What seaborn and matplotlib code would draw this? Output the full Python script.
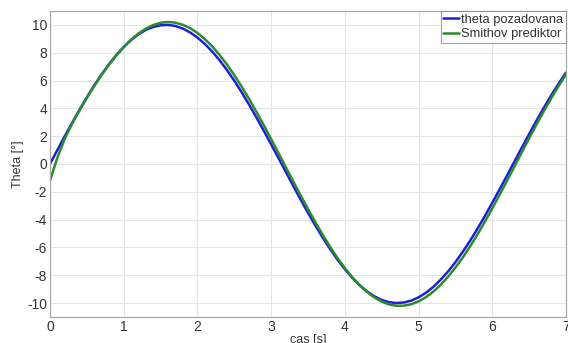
import pandas as pd
import seaborn as sns
import matplotlib.pyplot as plt

# time axis [s]
cas = [i / 10 for i in range(71)]

# theta pozadovana (reference)
theta_poz = [0.00, 1.00, 1.99, 2.96, 3.89, 4.79, 5.65, 6.44, 7.17, 7.83,
             8.41, 8.91, 9.32, 9.64, 9.85, 9.97, 10.00, 9.92, 9.74, 9.46,
             9.09, 8.63, 8.09, 7.46, 6.76, 5.99, 5.16, 4.27, 3.35, 2.39,
             1.41, 0.42, -0.58, -1.58, -2.56, -3.51, -4.43, -5.30, -6.12, -6.88,
             -7.57, -8.18, -8.72, -9.16, -9.52, -9.78, -9.94, -10.00, -9.96, -9.83,
             -9.59, -9.26, -8.84, -8.32, -7.73, -7.06, -6.31, -5.51, -4.65, -3.74,
             -2.79, -1.82, -0.83, 0.17, 1.17, 2.15, 3.12, 4.05, 4.94, 5.78,
             6.57]

# Smithov prediktor output
theta_smith = [-1.20, 0.45, 1.80, 2.90, 3.85, 4.75, 5.60, 6.40, 7.13, 7.80,
               8.39, 8.93, 9.38, 9.73, 9.99, 10.15, 10.21, 10.16, 10.01, 9.77,
               9.42, 8.98, 8.46, 7.84, 7.15, 6.39, 5.56, 4.68, 3.75, 2.79,
               1.79, 0.78, -0.24, -1.26, -2.26, -3.24, -4.19, -5.10, -5.96, -6.76,
               -7.49, -8.14, -8.72, -9.20, -9.60, -9.90, -10.10, -10.20, -10.19, -10.09,
               -9.88, -9.58, -9.18, -8.69, -8.11, -7.45, -6.72, -5.92, -5.06, -4.14,
               -3.19, -2.21, -1.20, -0.19, 0.83, 1.85, 2.84, 3.80, 4.73, 5.61,
               6.43]

series_names = ['theta pozadovana', 'Smithov prediktor']
series_colors = ['#1f1fd8', '#2b8c2b']

df = pd.DataFrame({
    'cas': cas * 2,
    'theta': theta_poz + theta_smith,
    'signal': [series_names[0]] * len(cas) + [series_names[1]] * len(cas),
})

sns.set_style('white')
plt.rcParams['font.family'] = ['Liberation Sans', 'DejaVu Sans']
plt.rcParams['axes.unicode_minus'] = False

fig = plt.figure(figsize=(5.68, 3.43), dpi=100)
ax = fig.add_axes([0.088, 0.076, 0.9085, 0.892])

sns.lineplot(data=df, x='cas', y='theta', hue='signal', hue_order=series_names,
             palette=series_colors, linewidth=1.8, ax=ax)

ax.set_xlim(0, 7)
ax.set_ylim(-11, 11)
ax.set_xticks(range(0, 8))
ax.set_yticks(range(-10, 11, 2))
ax.grid(True, color='#e4e4e4', linewidth=0.8)
ax.tick_params(direction='in', length=3, color='#999999', labelsize=10,
               labelcolor='#333333', pad=2)
for s in ax.spines.values():
    s.set_color('#aaaaaa')
    s.set_linewidth(0.9)

ax.set_xlabel('cas [s]', fontsize=9, color='#333333', labelpad=0)
ax.set_ylabel('Theta [°]', fontsize=9, color='#333333', labelpad=2)

leg = ax.legend(loc='upper right', fontsize=9.3, frameon=True, fancybox=False,
                borderaxespad=0, handlelength=1.2, handletextpad=0.2,
                borderpad=0.2, labelspacing=0.2)
leg.get_frame().set_edgecolor('#888888')
leg.get_frame().set_linewidth(0.8)
for t in leg.get_texts():
    t.set_color('#333333')

fig.savefig('out.png', dpi=100)
